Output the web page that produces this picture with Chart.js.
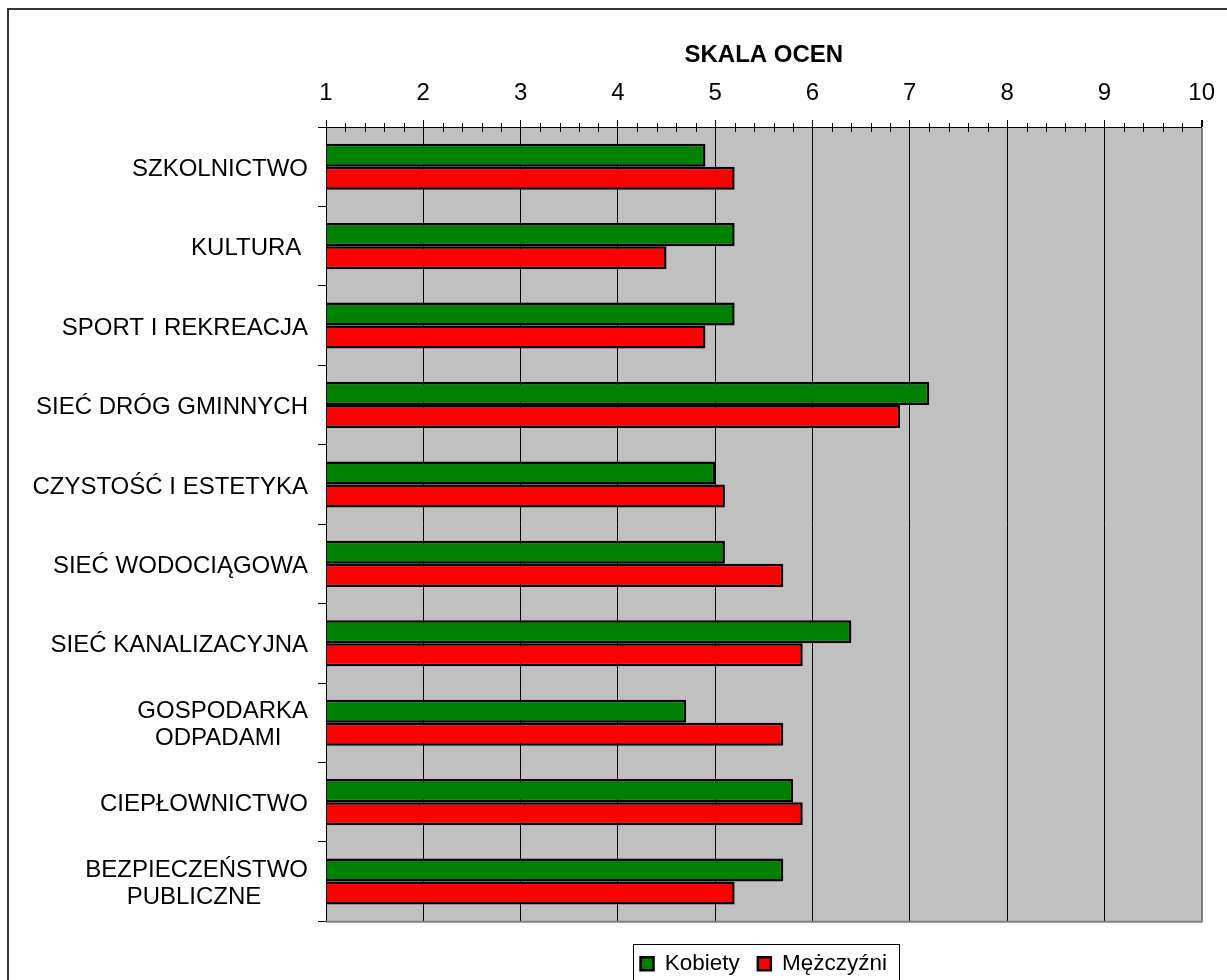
<!DOCTYPE html>
<html>
<head>
<meta charset="utf-8">
<script src="https://cdn.jsdelivr.net/npm/chart.js@4.4.1/dist/chart.umd.min.js"></script>
<style>
  html, body { margin: 0; padding: 0; background: #fff; overflow: hidden; }
  #wrap { position: absolute; left: 0; top: 0; width: 1227px; height: 1000px; }
</style>
</head>
<body>
<div id="wrap"><canvas id="c" width="1227" height="1000"></canvas></div>
<script>
// ---- data ----
const categories = [
  'SZKOLNICTWO',
  'KULTURA ',
  'SPORT I REKREACJA',
  'SIEĆ DRÓG GMINNYCH',
  'CZYSTOŚĆ I ESTETYKA',
  'SIEĆ WODOCIĄGOWA',
  'SIEĆ KANALIZACYJNA',
  ['GOSPODARKA', 'ODPADAMI    '],
  'CIEPŁOWNICTWO',
  ['BEZPIECZEŃSTWO', 'PUBLICZNE       ']
];
const kobiety   = [4.9, 5.2, 5.2, 7.2, 5.0, 5.1, 6.4, 4.7, 5.8, 5.7];
const mezczyzni = [5.2, 4.5, 4.9, 6.9, 5.1, 5.7, 5.9, 5.7, 5.9, 5.2];
const seriesNames = ['Kobiety', 'Mężczyźni'];
const axisTitle = 'SKALA OCEN';
const scaleMin = 1, scaleMax = 10, minorStep = 0.2;

const FONT = "'Liberation Sans', Arial, sans-serif";
const isInt = v => Math.abs(v - Math.round(v)) < 1e-6;

const decor = {
  id: 'decor',
  afterLayout(chart) {
    // centre the legend under the plot area
    const lg = chart.legend;
    if (lg) {
      lg.left = chart.chartArea.left;
      lg.right = chart.chartArea.right;
      lg.width = lg.right - lg.left;
    }
  },
  beforeDraw(chart) {
    const {ctx, chartArea: a} = chart;
    ctx.save();
    ctx.fillStyle = '#fff';
    ctx.fillRect(0, 0, chart.width, chart.height);
    // outer frame
    ctx.strokeStyle = '#333';
    ctx.lineWidth = 2;
    ctx.beginPath();
    ctx.moveTo(8, chart.height + 5);
    ctx.lineTo(8, 9);
    ctx.lineTo(chart.width + 5, 9);
    ctx.stroke();
    // plot background
    ctx.fillStyle = '#C0C0C0';
    ctx.fillRect(a.left, a.top, a.right - a.left, a.bottom - a.top);
    ctx.restore();
  },
  afterDraw(chart) {
    const {ctx, chartArea: a} = chart;
    const xs = chart.scales.x;
    ctx.save();
    // bottom plot border (gray)
    ctx.strokeStyle = '#808080';
    ctx.lineWidth = 2;
    ctx.beginPath();
    ctx.moveTo(a.left, a.bottom + 0.5);
    ctx.lineTo(a.right + 1, a.bottom + 0.5);
    ctx.stroke();
    // minor ticks crossing the top axis line
    ctx.strokeStyle = '#000';
    ctx.lineWidth = 1;
    xs.ticks.forEach((t, i) => {
      if (!isInt(t.value)) {
        const px = Math.round(xs.getPixelForTick(i)) + 0.5;
        ctx.beginPath();
        ctx.moveTo(px, a.top - 4);
        ctx.lineTo(px, a.top + 5);
        ctx.stroke();
      }
    });
    // legend frame
    const lg = chart.legend;
    if (lg && lg.legendHitBoxes && lg.legendHitBoxes.length) {
      const hb = lg.legendHitBoxes;
      const l = Math.min(...hb.map(h => h.left)) - 8;
      const r = Math.max(...hb.map(h => h.left + h.width)) + 11;
      const t = Math.min(...hb.map(h => h.top)) - 9;
      const b = Math.max(...hb.map(h => h.top + h.height)) + 9;
      ctx.strokeStyle = '#000';
      ctx.lineWidth = 1;
      ctx.strokeRect(Math.round(l) + 0.5, Math.round(t) + 0.5, Math.round(r - l), Math.round(b - t));
    }
    ctx.restore();
  }
};

new Chart(document.getElementById('c'), {
  type: 'bar',
  data: {
    labels: categories,
    datasets: [
      { label: seriesNames[0], data: kobiety, backgroundColor: '#008000', borderColor: '#000', borderWidth: 2.5, base: scaleMin,
        categoryPercentage: 0.58, barPercentage: 1.0 },
      { label: seriesNames[1], data: mezczyzni, backgroundColor: '#FF0000', borderColor: '#000', borderWidth: 2.5, base: scaleMin,
        categoryPercentage: 0.58, barPercentage: 1.0 }
    ]
  },
  options: {
    indexAxis: 'y',
    responsive: false,
    animation: false,
    layout: { padding: { left: 0, right: 25, top: 0, bottom: 15 } },
    plugins: {
      tooltip: { enabled: false },
      legend: {
        position: 'bottom',
        title: { display: true, text: '', font: { size: 1 }, padding: { top: 0, bottom: 12 } },
        labels: {
          font: { family: FONT, size: 22.5 },
          color: '#000',
          boxWidth: 13,
          boxHeight: 13,
          padding: 18
        }
      }
    },
    scales: {
      x: {
        position: 'top',
        min: scaleMin,
        max: scaleMax,
        afterFit(s) { s.height = 127; },
        ticks: {
          stepSize: minorStep,
          autoSkip: false,
          maxRotation: 0,
          padding: 12,
          color: '#000',
          font: { family: FONT, size: 24 },
          callback: v => isInt(v) ? String(Math.round(v)) : ''
        },
        grid: {
          color: ctx => {
            const v = ctx.tick ? ctx.tick.value : 0;
            if (!isInt(v)) return 'rgba(0,0,0,0)';
            return Math.round(v) === scaleMax ? '#808080' : '#000';
          },
          lineWidth: ctx => (ctx.tick && Math.round(ctx.tick.value) === scaleMax && isInt(ctx.tick.value)) ? 2 : 1,
          tickColor: ctx => (ctx.tick && isInt(ctx.tick.value)) ? '#000' : 'rgba(0,0,0,0)',
          tickLength: 7,
          drawTicks: true
        },
        border: { display: true, color: '#000', width: 1 },
        title: {
          display: true,
          text: axisTitle,
          color: '#000',
          font: { family: FONT, size: 24, weight: 'bold' },
          padding: { top: 40.5, bottom: 0 }
        }
      },
      y: {
        afterFit(s) { s.width = 326; },
        ticks: {
          color: '#000',
          font: { family: FONT, size: 24, lineHeight: 1.13 },
          padding: 10,
          labelOffset: 2.5,
          autoSkip: false
        },
        grid: {
          offset: true,
          drawOnChartArea: false,
          color: '#000',
          tickLength: 8
        },
        border: { display: true, color: '#000', width: 1 }
      }
    }
  },
  plugins: [decor]
});
</script>
</body>
</html>
